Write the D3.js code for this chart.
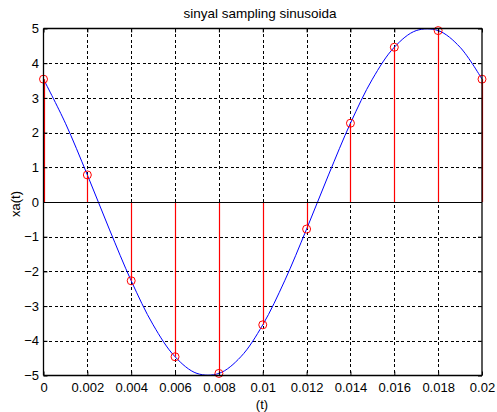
<!DOCTYPE html>
<html>
<head>
<meta charset="utf-8">
<script src="https://cdn.jsdelivr.net/npm/d3@7"></script>
<style>
  html, body { margin: 0; padding: 0; background: #fff; }
  svg { display: block; font-family: "Liberation Sans", Arial, sans-serif; }
</style>
</head>
<body>
<svg id="chart" width="497" height="412"></svg>
<script>
// Sampled values x[n] at t = n * 0.002
const sampleT = [0, 0.002, 0.004, 0.006, 0.008, 0.01, 0.012, 0.014, 0.016, 0.018, 0.02];
const sampleX = [3.54, 0.78, -2.27, -4.46, -4.94, -3.54, -0.78, 2.27, 4.46, 4.94, 3.54];

// Continuous signal xa(t), read every 0.001 s
const curveT = [0, 0.001, 0.002, 0.003, 0.004, 0.005, 0.006, 0.007, 0.008, 0.009, 0.01,
                0.011, 0.012, 0.013, 0.014, 0.015, 0.016, 0.017, 0.018, 0.019, 0.02];
const curveX = [3.54, 2.27, 0.78, -0.78, -2.27, -3.54, -4.46, -4.94, -4.94, -4.46, -3.54,
                -2.27, -0.78, 0.78, 2.27, 3.54, 4.46, 4.94, 4.94, 4.46, 3.54];

const xTicks = [0, 0.002, 0.004, 0.006, 0.008, 0.01, 0.012, 0.014, 0.016, 0.018, 0.02];
const yTicks = [-5, -4, -3, -2, -1, 0, 1, 2, 3, 4, 5];

const svg = d3.select("#chart");
const mLeft = 43.5, mRight = 482, mTop = 28.5, mBottom = 375.5;

const x = d3.scaleLinear().domain([0, 0.02]).range([mLeft, mRight]);
const y = d3.scaleLinear().domain([-5, 5]).range([mBottom, mTop]);

// dashed grid
const grid = svg.append("g").attr("stroke", "#000").attr("stroke-width", 1)
  .attr("stroke-dasharray", "3,2.5").attr("shape-rendering", "crispEdges");
grid.selectAll(".gx").data(xTicks.slice(1, -1)).join("line")
  .attr("x1", d => Math.round(x(d)) + 0.5).attr("x2", d => Math.round(x(d)) + 0.5)
  .attr("y1", mTop).attr("y2", mBottom);
grid.selectAll(".gy").data(yTicks.slice(1, -1)).join("line")
  .attr("y1", d => Math.round(y(d)) + 0.5).attr("y2", d => Math.round(y(d)) + 0.5)
  .attr("x1", mLeft).attr("x2", mRight);

// continuous curve
const line = d3.line().x((d, i) => x(curveT[i])).y(d => y(d)).curve(d3.curveCatmullRom.alpha(0.5));
svg.append("path").datum(curveX).attr("d", line)
  .attr("fill", "none").attr("stroke", "#0000ff").attr("stroke-width", 1);

// stems
svg.append("g").selectAll("line").data(sampleX).join("line")
  .attr("x1", (d, i) => Math.round(x(sampleT[i])) + 0.5)
  .attr("x2", (d, i) => Math.round(x(sampleT[i])) + 0.5)
  .attr("y1", y(0)).attr("y2", d => y(d))
  .attr("stroke", "#ff0000").attr("stroke-width", 1.2);

// baseline
svg.append("line").attr("x1", mLeft).attr("x2", mRight)
  .attr("y1", Math.round(y(0)) + 0.5).attr("y2", Math.round(y(0)) + 0.5)
  .attr("stroke", "#000").attr("stroke-width", 1);

// markers
svg.append("g").selectAll("circle").data(sampleX).join("circle")
  .attr("cx", (d, i) => x(sampleT[i])).attr("cy", d => y(d)).attr("r", 4)
  .attr("fill", "none").attr("stroke", "#ff0000").attr("stroke-width", 1);

// axes box with inward ticks
const fmt = d => d === 0 ? "0" : String(+d.toFixed(3));
const axB = d3.axisBottom(x).tickValues(xTicks).tickSize(-4).tickPadding(7).tickFormat(fmt);
const axT = d3.axisTop(x).tickValues(xTicks).tickSize(-4).tickFormat("");
const axL = d3.axisLeft(y).tickValues(yTicks).tickSize(-4).tickPadding(4.5).tickFormat(d3.format("d"));
const axR = d3.axisRight(y).tickValues(yTicks).tickSize(-4).tickFormat("");

function style(g) {
  g.select(".domain").attr("stroke", "#000").attr("stroke-width", 1.3);
  g.selectAll(".tick line").attr("stroke", "#000");
  g.selectAll(".tick text").attr("fill", "#000").attr("font-size", 13)
    .attr("font-family", "Liberation Sans, Arial, sans-serif");
}
svg.append("g").attr("transform", `translate(0,${mBottom})`).call(axB).call(style)
  .select(".domain").attr("d", `M${mLeft},0H${mRight}`);
svg.append("g").attr("transform", `translate(0,${mTop})`).call(axT).call(style)
  .select(".domain").attr("d", `M${mLeft},0H${mRight}`);
svg.append("g").attr("transform", `translate(${mLeft},0)`).call(axL).call(style)
  .select(".domain").attr("d", `M0,${mTop}V${mBottom}`);
svg.append("g").attr("transform", `translate(${mRight},0)`).call(axR).call(style)
  .select(".domain").attr("d", `M0,${mTop}V${mBottom}`);

// title and axis labels
svg.append("text").attr("x", 260).attr("y", 18).attr("text-anchor", "middle")
  .attr("font-size", 13.5).text("sinyal sampling sinusoida");
svg.append("text").attr("x", 262).attr("y", 409).attr("text-anchor", "middle")
  .attr("font-size", 13).text("(t)");
svg.append("text").attr("transform", `translate(19.5,204) rotate(-90)`)
  .attr("text-anchor", "middle").attr("font-size", 13).text("xa(t)");
</script>
</body>
</html>
